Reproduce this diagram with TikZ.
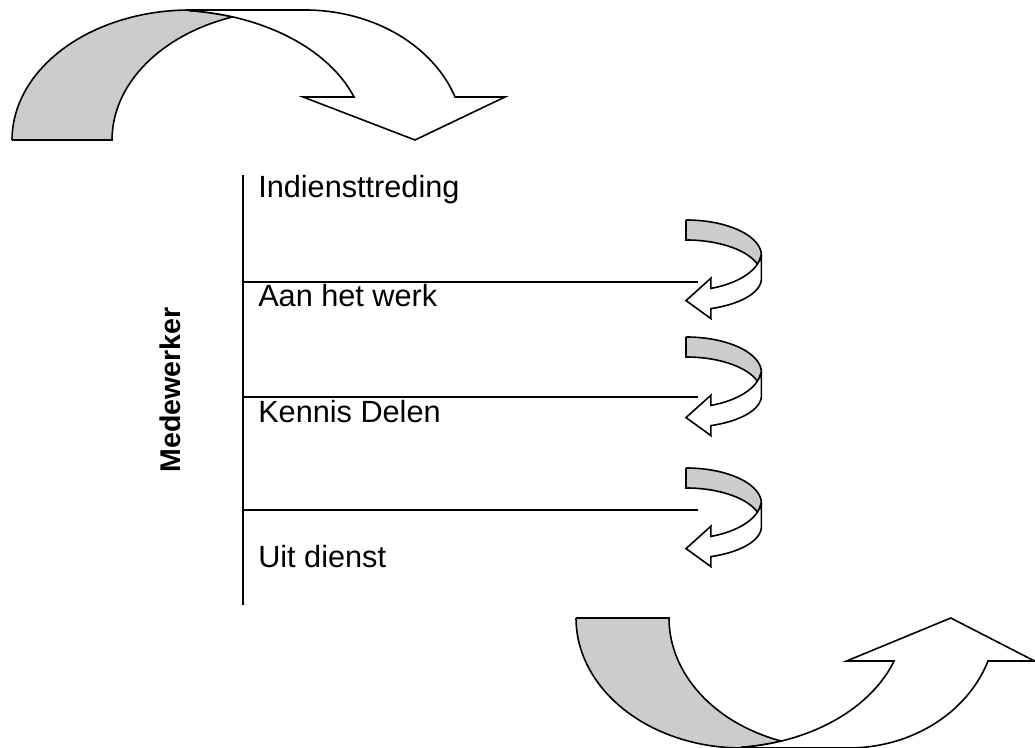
\documentclass[tikz,border=0pt]{standalone}
\usepackage{fontspec}
\setmainfont{Liberation Sans}
\definecolor{arrowgray}{RGB}{204,204,204}
\tikzset{
  outline/.style={draw=black, line width=1.2pt, line join=miter},
  curvarrow/.pic={
    \path[outline, fill=arrowgray]
      (0,0) -- (100,0)
      -- plot[domain=180:108.8, samples=40, variable=\q] ({278+178*cos(\q)},{130*sin(\q)})
      -- plot[domain=71.25:84.1, samples=8, variable=\q] ({158+195*cos(\q)},{130*sin(\q)})
      -- plot[domain=90:180, samples=40, variable=\q] ({178+178*cos(\q)},{130*sin(\q)})
      -- cycle;
    \path[outline, fill=white]
      (178,130) -- (293,130)
      -- plot[domain=90:19.3, samples=40, variable=\q] ({293+159*cos(\q)},{130*sin(\q)})
      -- (493,43) -- (403,0) -- (291,43)
      -- plot[domain=19.3:84.1, samples=40, variable=\q] ({158+195*cos(\q)},{130*sin(\q)})
      -- cycle;
  },
  stagetext/.style={font=\fontsize{23}{27}\selectfont, inner sep=0pt, anchor=base west},
  ruleline/.style={line width=1.3pt}
}
\begin{document}
\begin{tikzpicture}[x=0.75pt,y=0.75pt]
\useasboundingbox (0,0) rectangle (1035,748);
% big arrows
\begin{scope}[shift={(12,608)}]
  \pic[transform shape] {curvarrow};
\end{scope}
\begin{scope}[shift={(576,130)}, xscale=0.93, yscale=-1]
  \pic[transform shape] {curvarrow};
\end{scope}
% small arrows
\foreach \yy in {528,411,280}{
  \begin{scope}[shift={(686,\yy)}]
    \begin{scope}[cm={0,-0.2,0.58,0,(0,0)}]
      \pic[transform shape] {curvarrow};
    \end{scope}
  \end{scope}
}
% axis and rules
\coordinate (vtop) at (243,573);
\coordinate (vbot) at (243,143);
\coordinate (h1a) at (243,466);
\coordinate (h1b) at (698,466);
\coordinate (h2a) at (243,351);
\coordinate (h2b) at (698,351);
\coordinate (h3a) at (243,238);
\coordinate (h3b) at (698,238);
\draw[ruleline] (vtop) -- (vbot);
\draw[ruleline] (h1a) -- (h1b);
\draw[ruleline] (h2a) -- (h2b);
\draw[ruleline] (h3a) -- (h3b);
% texts
\node[stagetext] (t1) at (258,550) {Indiensttreding};
\node[stagetext] (t2) at (258,441) {Aan het werk};
\node[stagetext] (t3) at (258,325) {Kennis Delen};
\node[stagetext] (t4) at (258,180) {Uit dienst};
\node[rotate=90, anchor=base, inner sep=0pt, font=\fontsize{21.4}{26}\selectfont\bfseries] (med) at (180,358) {Medewerker};
\end{tikzpicture}
\end{document}
